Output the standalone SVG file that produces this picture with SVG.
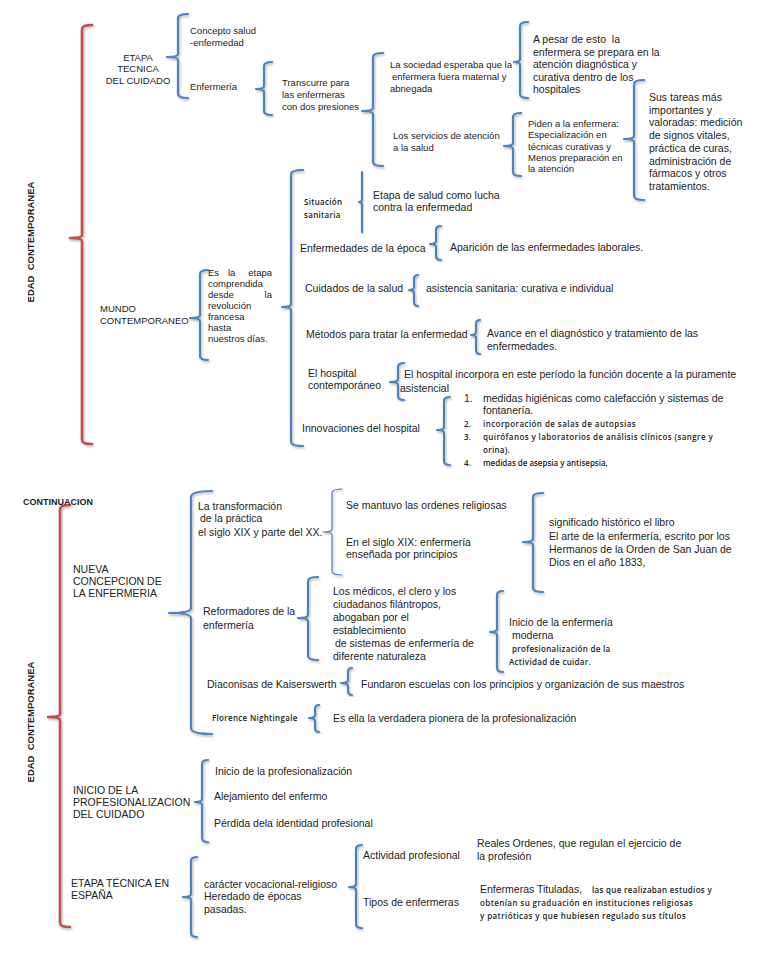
<svg xmlns="http://www.w3.org/2000/svg" width="768" height="960" viewBox="0 0 768 960">
<defs>
<filter id="sh" x="-50%" y="-5%" width="200%" height="110%">
<feDropShadow dx="1" dy="1.5" stdDeviation="0.8" flood-color="#000" flood-opacity="0.3"/>
</filter>
<style>
text{font-family:"Liberation Sans",Arial,sans-serif;fill:#222;}
.t{font-size:10.5px;}
.s{font-size:9.5px;}
.c{font-family:"Open Sans","Noto Sans",sans-serif;font-size:8px;font-weight:600;letter-spacing:0.3px;}
.b{font-weight:bold;}
.bl{fill:none;stroke:#4F81BD;stroke-width:2.2;stroke-linecap:round;stroke-linejoin:round;filter:url(#sh);}
.thin{stroke-width:1.2;}
.rd{fill:none;stroke:#C0504D;stroke-width:2.6;stroke-linecap:round;stroke-linejoin:round;filter:url(#sh);}
</style>
</defs>
<rect width="768" height="960" fill="#fff"/>

<g id="connectors">
<path class="rd" d="M92,25 Q82,25 82,29 V235 Q82,238 70,238 Q82,238 82,241 V440 Q82,444 92,444"/>
<path class="bl" d="M188,14 Q178,14 178,18 V54 Q178,57 167,57 Q178,57 178,60 V94 Q178,98 188,98"/>
<path class="bl" d="M272,62 Q264,62 264,66 V86 Q264,89 256,89 Q264,89 264,92 V111 Q264,115 272,115"/>
<path class="bl" d="M383,53 Q373,53 373,57 V108 Q373,111 362,111 Q373,111 373,114 V162 Q373,166 383,166"/>
<path class="bl" d="M528,22 Q520,22 520,26 V59 Q520,62 514,62 Q520,62 520,65 V94 Q520,98 528,98"/>
<path class="bl" d="M521,113 Q513,113 513,117 V143 Q513,146 504,146 Q513,146 513,149 V172 Q513,176 521,176"/>
<path class="bl" d="M644,80 Q634,80 634,84 V136 Q634,139 624,139 Q634,139 634,142 V196 Q634,200 644,200"/>
<path class="bl" d="M208,270 Q200,270 200,274 V315 Q200,318 190,318 Q200,318 200,321 V356 Q200,360 208,360"/>
<path class="bl" d="M303,170 Q291,170 291,174 V304 Q291,307 282,307 Q291,307 291,310 V442 Q291,446 303,446"/>
<path class="bl" d="M362,172 V199 Q362,202 359,202 Q362,202 362,205 V232"/>
<path class="bl" d="M441,226 Q436,226 436,230 V241 Q436,244 430,244 Q436,244 436,247 V256 Q436,260 441,260"/>
<path class="bl" d="M418,275 Q414,275 414,279 V287 Q414,290 409,290 Q414,290 414,293 V302 Q414,306 418,306"/>
<path class="bl" d="M480,320 Q476,320 476,324 V332 Q476,335 471,335 Q476,335 476,338 V350 Q476,354 480,354"/>
<path class="bl" d="M404,363 Q398,363 398,367 V379 Q398,382 390,382 Q398,382 398,385 V396 Q398,400 404,400"/>
<path class="bl" d="M450,397 Q444,397 444,401 V427 Q444,430 437,430 Q444,430 444,433 V461 Q444,465 450,465"/>
<path class="rd" d="M70,505 Q60,505 60,509 V714 Q60,717 48,717 Q60,717 60,720 V923 Q60,927 70,927"/>
<path class="bl" d="M212,491 Q191,491 191,497 V608 Q191,613 169,613 Q191,613 191,618 V728 Q191,734 212,734"/>
<path class="bl thin" d="M342,489 Q332,489 332,493 V529 Q332,532 323,532 Q332,532 332,535 V571 Q332,575 342,575"/>
<path class="bl" d="M543,493 Q533,493 533,497 V539 Q533,542 523,542 Q533,542 533,545 V588 Q533,592 543,592"/>
<path class="bl" d="M318,577 Q308,577 308,581 V615 Q308,618 298,618 Q308,618 308,621 V656 Q308,660 318,660"/>
<path class="bl" d="M503,591 Q497,591 497,595 V629 Q497,632 490,632 Q497,632 497,635 V668 Q497,672 503,672"/>
<path class="bl" d="M352,668 Q348,668 348,672 V680 Q348,683 341,683 Q348,683 348,686 V691 Q348,695 352,695"/>
<path class="bl" d="M319,705 Q315,705 315,709 V715 Q315,718 309,718 Q315,718 315,721 V728 Q315,732 319,732"/>
<path class="bl" d="M208,760 Q202,760 202,764 V799 Q202,802 195,802 Q202,802 202,805 V838 Q202,842 208,842"/>
<path class="bl" d="M197,857 Q191,857 191,861 V894 Q191,897 183,897 Q191,897 191,900 V933 Q191,937 197,937"/>
<path class="bl" d="M362,845 Q356,845 356,849 V884 Q356,887 349,887 Q356,887 356,890 V924 Q356,928 362,928"/>
</g>

<g id="edad1"><text class="b" font-size="9.5" transform="translate(34,242) rotate(-90)" text-anchor="middle">EDAD&#160; CONTEMPORANEA</text></g>
<g id="etapa-tecnica"><text class="s" text-anchor="middle"><tspan x="138" y="61">ETAPA</tspan><tspan x="138" y="72">TECNICA</tspan><tspan x="138" y="84">DEL CUIDADO</tspan></text></g>
<g id="concepto"><text class="s"><tspan x="190" y="34">Concepto salud</tspan><tspan x="190" y="46">-enfermedad</tspan></text></g>
<g id="enfermeria"><text class="s" x="190" y="90">Enfermería</text></g>
<g id="transcurre"><text class="s"><tspan x="282" y="86">Transcurre para</tspan><tspan x="282" y="98">las enfermeras</tspan><tspan x="282" y="110">con dos presiones</tspan></text></g>
<g id="sociedad"><text class="s"><tspan x="390" y="68">La sociedad esperaba que la</tspan><tspan x="392" y="80">enfermera fuera maternal y</tspan><tspan x="390" y="92">abnegada</tspan></text></g>
<g id="servicios"><text class="s"><tspan x="393" y="139">Los servicios de atención</tspan><tspan x="393" y="151">a la salud</tspan></text></g>
<g id="apesar"><text class="t"><tspan x="533" y="43">A pesar de esto&#160; la</tspan><tspan x="533" y="56">enfermera se prepara en la</tspan><tspan x="533" y="68">atención diagnóstica y</tspan><tspan x="533" y="81">curativa dentro de los</tspan><tspan x="533" y="93">hospitales</tspan></text></g>
<g id="piden"><text class="s"><tspan x="528" y="127">Piden a la enfermera:</tspan><tspan x="528" y="138">Especialización en</tspan><tspan x="528" y="150">técnicas curativas y</tspan><tspan x="528" y="161">Menos preparación en</tspan><tspan x="528" y="172">la atención</tspan></text></g>
<g id="tareas"><text class="t"><tspan x="649" y="101">Sus tareas más</tspan><tspan x="649" y="114">importantes y</tspan><tspan x="649" y="126">valoradas: medición</tspan><tspan x="649" y="139">de signos vitales,</tspan><tspan x="649" y="152">práctica de curas,</tspan><tspan x="649" y="165">administración de</tspan><tspan x="649" y="177">fármacos y otros</tspan><tspan x="649" y="190">tratamientos.</tspan></text></g>
<g id="mundo"><text class="s"><tspan x="100" y="312">MUNDO</tspan><tspan x="100" y="324">CONTEMPORANEO</tspan></text></g>
<g id="es-la-etapa">
<text class="s" x="208" y="276">Es</text><text class="s" x="228" y="276">la</text><text class="s" x="272" y="276" text-anchor="end">etapa</text>
<text class="s" x="208" y="287">comprendida</text>
<text class="s" x="208" y="298">desde</text><text class="s" x="272" y="298" text-anchor="end">la</text>
<text class="s" x="208" y="309">revolución</text>
<text class="s" x="208" y="320">francesa</text>
<text class="s" x="208" y="331">hasta</text>
<text class="s" x="208" y="342">nuestros días.</text>
</g>
<g id="situacion"><text class="c" letter-spacing="0.6"><tspan x="304" y="205">Situación</tspan><tspan x="304" y="218">sanitaria</tspan></text></g>
<g id="etapa-salud"><text class="t"><tspan x="373" y="199">Etapa de salud como lucha</tspan><tspan x="373" y="211">contra la enfermedad</tspan></text></g>
<g id="enf-epoca"><text class="t" x="300" y="252">Enfermedades de la época</text></g>
<g id="aparicion"><text class="t" x="450" y="251">Aparición de las enfermedades laborales.</text></g>
<g id="cuidados"><text class="t" x="305" y="292">Cuidados de la salud</text></g>
<g id="asistencia"><text class="t" x="426" y="292">asistencia sanitaria: curativa e individual</text></g>
<g id="metodos"><text class="t" x="306" y="338">Métodos para tratar la enfermedad</text></g>
<g id="avance"><text class="t"><tspan x="487" y="337">Avance en el diagnóstico y tratamiento de las</tspan><tspan x="487" y="350">enfermedades.</tspan></text></g>
<g id="hospital"><text class="t"><tspan x="308" y="377">El hospital</tspan><tspan x="308" y="389">contemporáneo</tspan></text></g>
<g id="incorpora"><text class="t"><tspan x="404" y="378">El hospital incorpora en este período la función docente a la puramente</tspan><tspan x="400" y="392">asistencial</tspan></text></g>
<g id="innovaciones"><text class="t" x="302" y="432">Innovaciones del hospital</text></g>
<g id="lista">
<text class="t" x="464" y="402">1.</text><text class="t" x="483" y="402">medidas higiénicas como calefacción y sistemas de</text>
<text class="t" x="483" y="414">fontanería.</text>
<text class="c" x="464" y="427">2.</text><text class="c" x="483" y="427" textLength="153">incorporación de salas de autopsias</text>
<text class="c" x="464" y="440">3.</text><text class="c" x="483" y="440" textLength="230">quirófanos y laboratorios de análisis clínicos (sangre y</text>
<text class="c" x="483" y="453">orina).</text>
<text class="c" x="464" y="466">4.</text><text class="c" x="483" y="466" textLength="125">medidas de asepsia y antisepsia,</text>
</g>

<g id="continuacion"><text class="b" font-size="9" x="23" y="505">CONTINUACION</text></g>
<g id="edad2"><text class="b" font-size="9.5" transform="translate(34,722) rotate(-90)" text-anchor="middle">EDAD&#160; CONTEMPORANEA</text></g>
<g id="nueva"><text class="t"><tspan x="73" y="573">NUEVA</tspan><tspan x="73" y="585">CONCEPCION DE</tspan><tspan x="73" y="597">LA ENFERMERIA</tspan></text></g>
<g id="transformacion"><text class="t"><tspan x="198" y="510">La transformación</tspan><tspan x="200" y="522">de la práctica</tspan><tspan x="198" y="536">el siglo XIX y parte del XX.</tspan></text></g>
<g id="mantuvo"><text class="t" x="346" y="509">Se mantuvo las ordenes religiosas</text></g>
<g id="siglo19"><text class="t"><tspan x="346" y="546">En el siglo XIX: enfermería</tspan><tspan x="346" y="558">enseñada por principios</tspan></text></g>
<g id="significado"><text class="t"><tspan x="549" y="526">significado histórico el libro</tspan><tspan x="549" y="540">El arte de la enfermería, escrito por los</tspan><tspan x="549" y="553">Hermanos de la Orden de San Juan de</tspan><tspan x="549" y="566">Dios en el año 1833,</tspan></text></g>
<g id="reformadores"><text class="t"><tspan x="203" y="615">Reformadores de la</tspan><tspan x="203" y="629">enfermería</tspan></text></g>
<g id="medicos"><text class="t"><tspan x="333" y="595">Los médicos, el clero y los</tspan><tspan x="333" y="608">ciudadanos filántropos,</tspan><tspan x="333" y="621">abogaban por el</tspan><tspan x="333" y="634">establecimiento</tspan><tspan x="335" y="647">de sistemas de enfermería de</tspan><tspan x="333" y="660">diferente naturaleza</tspan></text></g>
<g id="inicio-enf"><text class="t" x="509" y="626">Inicio de la enfermería</text><text class="t" x="512" y="639">moderna</text><text class="c" x="512" y="652">profesionalización de la</text><text class="c" x="509" y="665">Actividad de cuidar.</text></g>
<g id="diaconisas"><text class="t" x="207" y="688">Diaconisas de Kaiserswerth</text></g>
<g id="fundaron"><text class="t" x="361" y="688">Fundaron escuelas con los principios y organización de sus maestros</text></g>
<g id="florence"><text class="c" letter-spacing="0.5" x="212" y="721">Florence Nightingale</text></g>
<g id="pionera"><text class="t" x="333" y="722">Es ella la verdadera pionera de la profesionalización</text></g>
<g id="inicio-prof"><text class="t"><tspan x="73" y="794">INICIO DE LA</tspan><tspan x="73" y="806">PROFESIONALIZACION</tspan><tspan x="73" y="818">DEL CUIDADO</tspan></text></g>
<g id="item-inicio"><text class="t" x="215" y="775">Inicio de la profesionalización</text></g>
<g id="item-alejamiento"><text class="t" x="214" y="800">Alejamiento del enfermo</text></g>
<g id="item-perdida"><text class="t" x="214" y="827">Pérdida dela identidad profesional</text></g>
<g id="etapa-espana"><text class="t"><tspan x="71" y="887">ETAPA TÉCNICA EN</tspan><tspan x="71" y="899">ESPAÑA</tspan></text></g>
<g id="caracter"><text class="t"><tspan x="204" y="888">carácter vocacional-religioso</tspan><tspan x="204" y="900">Heredado de épocas</tspan><tspan x="204" y="913">pasadas.</tspan></text></g>
<g id="actividad"><text class="t" x="363" y="859">Actividad profesional</text></g>
<g id="tipos"><text class="t" x="363" y="906">Tipos de enfermeras</text></g>
<g id="reales"><text class="t"><tspan x="477" y="847">Reales Ordenes, que regulan el ejercicio de</tspan><tspan x="477" y="860">la profesión</tspan></text></g>
<g id="tituladas"><text class="t" x="480" y="893">Enfermeras Tituladas,</text><text class="c" x="592" y="893" textLength="120">las que realizaban estudios y</text><text class="c" x="480" y="906" textLength="213">obtenían su graduación en instituciones religiosas</text><text class="c" x="480" y="919" textLength="206">y patrióticas y que hubiesen regulado sus títulos</text></g>
</svg>
